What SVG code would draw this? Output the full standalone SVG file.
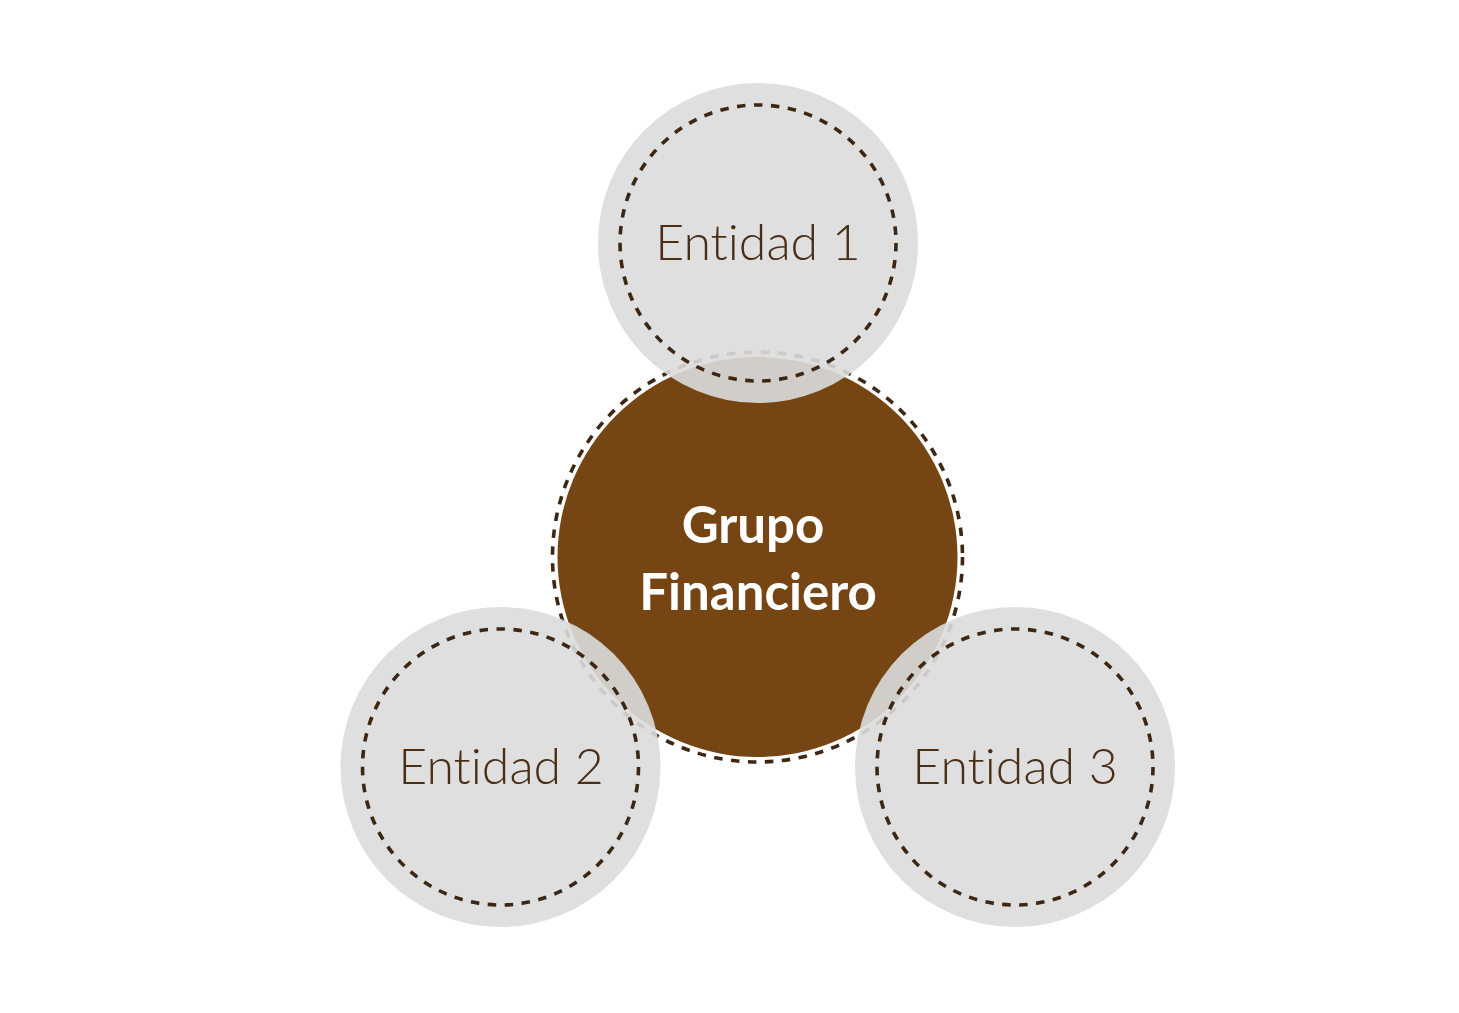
<svg xmlns="http://www.w3.org/2000/svg" width="1459" height="1013" viewBox="0 0 1459 1013">
<style>
.bg{fill:#ffffff}
.core{fill:#764514}
.ring{fill:none;stroke:#3e2712;stroke-width:3.6;stroke-dasharray:8.5 8.5}
.sat{fill:#dcdcdb;fill-opacity:0.9}
.lbl{font-family:Lato,"Liberation Sans",sans-serif;font-weight:300;font-size:50px;fill:#4a2f17;text-anchor:middle;font-variant-ligatures:none}
.core-lbl{font-family:Lato,"Liberation Sans",sans-serif;font-weight:700;font-size:51px;fill:#ffffff;text-anchor:middle;font-variant-ligatures:none}
</style>
<rect class="bg" x="0" y="0" width="1459" height="1013"/>
<g id="connectors"></g>
<g id="grupo-financiero">
<circle class="core" cx="757.5" cy="557" r="200"/>
<circle class="ring" cx="757.5" cy="557" r="205"/>
<text class="core-lbl" x="753" y="543">Grupo</text>
<text class="core-lbl" x="758" y="610">Financiero</text>
</g>
<g id="entidad-1">
<circle class="sat" cx="758" cy="243" r="160"/>
<circle class="ring" cx="758" cy="243" r="138"/>
<text class="lbl" x="758" y="260">Entidad 1</text>
</g>
<g id="entidad-2">
<circle class="sat" cx="500.5" cy="767" r="160"/>
<circle class="ring" cx="500.5" cy="767" r="138"/>
<text class="lbl" x="501" y="784">Entidad 2</text>
</g>
<g id="entidad-3">
<circle class="sat" cx="1015" cy="767" r="160"/>
<circle class="ring" cx="1015" cy="767" r="138"/>
<text class="lbl" x="1015" y="784">Entidad 3</text>
</g>
</svg>
